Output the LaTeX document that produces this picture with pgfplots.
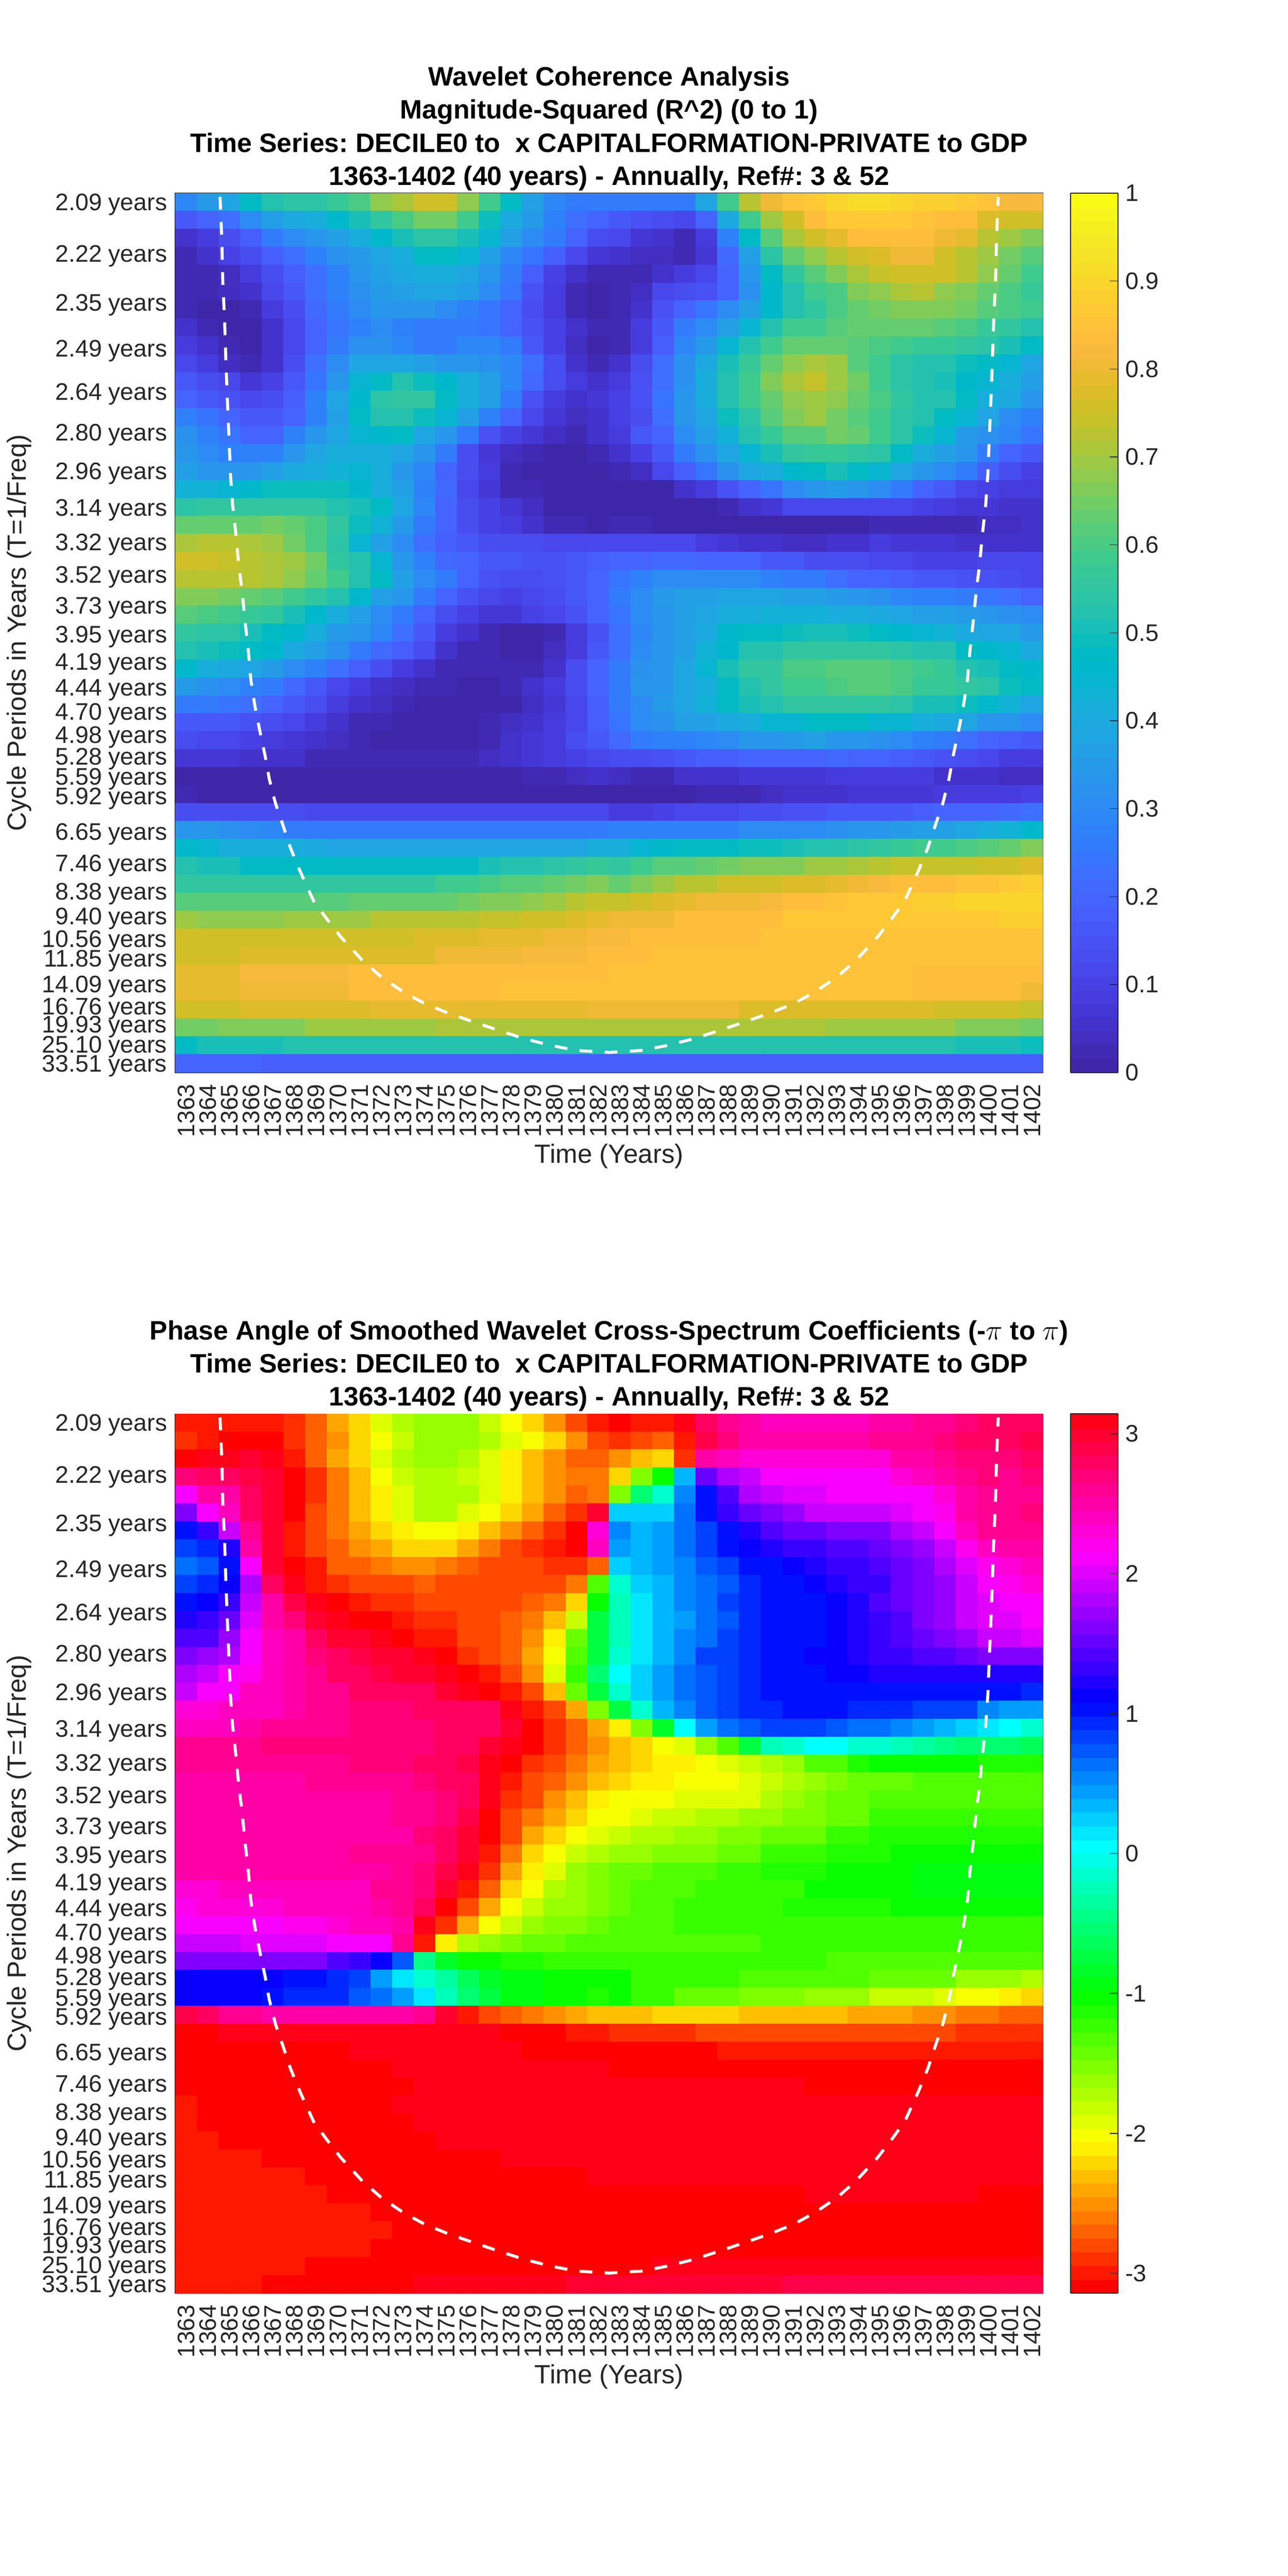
\documentclass[border=0pt]{standalone}
\usepackage{fontspec}
\setmainfont{Liberation Sans}
\usepackage{pgfplots}
\usepackage{pgfplotstable}
\pgfplotsset{compat=1.18}
\definecolor{axc}{rgb}{0.15,0.15,0.15}
\pgfplotsset{
colormap={parula}{rgb=(.2422,.1504,.6603) rgb=(.2504,.1650,.7076) rgb=(.2578,.1818,.7511) rgb=(.2647,.1978,.7952) rgb=(.2706,.2147,.8364) rgb=(.2751,.2342,.8710) rgb=(.2783,.2559,.8991) rgb=(.2803,.2782,.9221) rgb=(.2813,.3006,.9414) rgb=(.2810,.3228,.9579) rgb=(.2795,.3447,.9717) rgb=(.2760,.3667,.9829) rgb=(.2699,.3892,.9906) rgb=(.2602,.4123,.9952) rgb=(.2440,.4358,.9988) rgb=(.2206,.4603,.9973) rgb=(.1963,.4847,.9892) rgb=(.1834,.5074,.9798) rgb=(.1786,.5289,.9682) rgb=(.1764,.5499,.9520) rgb=(.1687,.5703,.9359) rgb=(.1540,.5902,.9218) rgb=(.1460,.6091,.9079) rgb=(.1380,.6276,.8973) rgb=(.1248,.6459,.8883) rgb=(.1113,.6635,.8763) rgb=(.0952,.6798,.8598) rgb=(.0689,.6948,.8394) rgb=(.0297,.7082,.8163) rgb=(.0036,.7203,.7917) rgb=(.0067,.7312,.7660) rgb=(.0433,.7411,.7394) rgb=(.0964,.7500,.7120) rgb=(.1408,.7584,.6842) rgb=(.1717,.7670,.6554) rgb=(.1938,.7758,.6251) rgb=(.2161,.7843,.5923) rgb=(.2470,.7918,.5567) rgb=(.2906,.7973,.5188) rgb=(.3406,.8008,.4789) rgb=(.3909,.8029,.4354) rgb=(.4456,.8024,.3909) rgb=(.5044,.7993,.3480) rgb=(.5616,.7942,.3045) rgb=(.6174,.7876,.2612) rgb=(.6720,.7793,.2227) rgb=(.7242,.7698,.1910) rgb=(.7738,.7598,.1646) rgb=(.8203,.7498,.1535) rgb=(.8634,.7406,.1596) rgb=(.9035,.7330,.1774) rgb=(.9393,.7288,.2100) rgb=(.9728,.7298,.2394) rgb=(.9956,.7434,.2371) rgb=(.9970,.7659,.2199) rgb=(.9952,.7893,.2028) rgb=(.9892,.8136,.1885) rgb=(.9786,.8386,.1766) rgb=(.9676,.8639,.1643) rgb=(.9610,.8890,.1537) rgb=(.9597,.9135,.1423) rgb=(.9628,.9373,.1265) rgb=(.9691,.9606,.1064) rgb=(.9769,.9839,.0805)},
colormap={hsvm}{rgb=(1,0,0) rgb=(1,.094,0) rgb=(1,.188,0) rgb=(1,.281,0) rgb=(1,.375,0) rgb=(1,.469,0) rgb=(1,.563,0) rgb=(1,.656,0) rgb=(1,.75,0) rgb=(1,.844,0) rgb=(1,.938,0) rgb=(.969,1,0) rgb=(.875,1,0) rgb=(.781,1,0) rgb=(.688,1,0) rgb=(.594,1,0) rgb=(.5,1,0) rgb=(.406,1,0) rgb=(.313,1,0) rgb=(.219,1,0) rgb=(.125,1,0) rgb=(.031,1,0) rgb=(0,1,.063) rgb=(0,1,.156) rgb=(0,1,.25) rgb=(0,1,.344) rgb=(0,1,.438) rgb=(0,1,.531) rgb=(0,1,.625) rgb=(0,1,.719) rgb=(0,1,.813) rgb=(0,1,.906) rgb=(0,1,1) rgb=(0,.906,1) rgb=(0,.813,1) rgb=(0,.719,1) rgb=(0,.625,1) rgb=(0,.531,1) rgb=(0,.438,1) rgb=(0,.344,1) rgb=(0,.25,1) rgb=(0,.156,1) rgb=(0,.063,1) rgb=(.031,0,1) rgb=(.125,0,1) rgb=(.219,0,1) rgb=(.313,0,1) rgb=(.406,0,1) rgb=(.5,0,1) rgb=(.594,0,1) rgb=(.688,0,1) rgb=(.781,0,1) rgb=(.875,0,1) rgb=(.969,0,1) rgb=(1,0,.938) rgb=(1,0,.844) rgb=(1,0,.75) rgb=(1,0,.656) rgb=(1,0,.563) rgb=(1,0,.469) rgb=(1,0,.375) rgb=(1,0,.281) rgb=(1,0,.188) rgb=(1,0,.094)},
hmap/.style={
  scale only axis, width=526.4pt, height=533.5pt, anchor=south west,
  xmin=1362.5, xmax=1402.5, ymin=0, ymax=49, y dir=reverse,
  axis line style={draw=axc, line width=0.55pt},
  tick style={draw=axc, line width=0.5pt},
  tick align=inside, major tick length=5pt,
  /pgf/number format/assume math mode=true,
  /pgf/number format/1000 sep={},
  tick label style={font=\fontsize{14.5}{16}\selectfont, text=axc},
  xtick={1363,1364,...,1402},
  x tick label style={yshift=-3.5pt, rotate=90, anchor=east},
  ytick={0.5,3.374,6.086,8.646,11.063,13.343,15.496,17.528,19.446,21.256,22.965,24.578,26.1,27.537,28.893,30.173,31.381,32.522,33.598,34.614,35.573,36.479,37.332,38.139,38.9,39.619,40.296,40.936,41.541,42.111,42.649,43.157,43.636,44.089,44.516,44.919,45.3,45.659,45.998,46.318,46.62,46.905,47.174,47.429,47.668,47.895,48.108,48.31,48.5},
  yticklabels={2.09 years,2.22 years,2.35 years,2.49 years,2.64 years,2.80 years,2.96 years,3.14 years,3.32 years,3.52 years,3.73 years,3.95 years,4.19 years,4.44 years,4.70 years,4.98 years,5.28 years,5.59 years,5.92 years,{},6.65 years,{},7.46 years,{},8.38 years,{},9.40 years,{},10.56 years,{},11.85 years,{},{},14.09 years,{},{},16.76 years,{},{},19.93 years,{},{},{},25.10 years,{},{},{},{},33.51 years},
  y tick label style={xshift=-1.5pt, yshift=-1.5pt},
  every axis x label/.style={at={(axis description cs:0.5,-0.0951)},anchor=center,font=\fontsize{16}{18}\selectfont,text=axc},
  every axis y label/.style={at={(axis description cs:-0.1802,0.5)},rotate=90,anchor=center,font=\fontsize{16}{18}\selectfont,text=axc},
  xlabel={Time (Years)}, ylabel={Cycle Periods in Years (T=1/Freq)},
  title style={align=center, font=\frenchspacing\bfseries\fontsize{16.15}{20.1}\selectfont, text=black, anchor=south, at={(0.5,1)}, yshift=-8pt},
  colormap access=piecewise constant,
  colorbar sampled,
  colorbar style={scale only axis, width=28.75pt, samples=65,
    at={(parent axis.north east)}, anchor=north west, xshift=8.25pt,
    axis line style={draw=axc, line width=0.55pt},
    tick style={draw=axc, line width=0.5pt},
    tick align=inside, ytick pos=right, major tick length=5pt,
    /pgf/number format/assume math mode=true,
    yticklabel pos=right,
    y tick label style={font=\fontsize{14.5}{16}\selectfont, text=axc, xshift=1pt},
  },
},
hcell/.style={matrix plot*, mesh/cols=40, point meta=explicit, forget plot},
coi/.style={white, line width=1.8pt, dash pattern=on 7.75pt off 7.5pt, no marks, forget plot},
}
\pgfplotstableread[header=false]{
1364.56 0.2
1364.64 2.5
1364.69 5
1364.77 7.08
1364.83 9.37
1364.89 11.28
1364.97 13.57
1365.04 15.67
1365.14 17.38
1365.28 18.9
1365.43 20.8
1365.57 22.1
1365.70 23.72
1365.86 25.42
1365.98 27.12
1366.17 28.6
1366.38 29.88
1366.64 31.36
1366.83 32.64
1367.12 34.02
1367.45 35.18
1367.8 36.46
1368.23 37.73
1368.87 39.43
1369.45 40.39
1370.13 41.45
1371.1 42.72
1372 43.68
1373.04 44.53
1374.0 45.16
1375.08 45.69
1376.25 46.18
1377.4 46.65
1378.6 47.12
1379.85 47.5
1381.0 47.77
1382.5 47.88
1384 47.77
1385.15 47.5
1386.4 47.12
1387.6 46.65
1388.75 46.18
1389.92 45.69
1391 45.16
1391.96 44.53
1393 43.68
1393.9 42.72
1394.87 41.45
1395.55 40.39
1396.13 39.43
1396.77 37.73
1397.2 36.46
1397.55 35.18
1397.88 34.02
1398.17 32.64
1398.36 31.36
1398.62 29.88
1398.83 28.6
1399.02 27.12
1399.14 25.42
1399.3 23.72
1399.43 22.1
1399.57 20.8
1399.72 18.9
1399.86 17.38
1399.96 15.67
1400.03 13.57
1400.11 11.28
1400.17 9.37
1400.23 7.08
1400.31 5
1400.36 2.5
1400.44 0.2
}\coitab
% Coherence in hundredths, 49 rows by 40 years
\pgfplotstableread[header=false]{
29 35 38 47 53 54 54 57 60 68 71 75 75 68 59 47 37 29 26 25 25 25 25 25 38 58 72 80 85 87 90 92 92 90 89 88 87 85 82 82
17 20 22 30 37 40 42 46 51 55 60 65 65 58 49 40 35 27 22 19 17 15 13 12 20 40 58 70 76 83 86 86 86 86 85 83 83 77 76 75
5 8 13 18 25 30 34 36 42 46 50 54 54 50 44 36 30 25 19 14 11 7 5 3 9 28 47 61 71 75 79 83 84 84 84 80 79 73 70 67
3 5 10 14 18 23 28 32 35 38 42 47 47 45 36 29 24 18 11 7 5 4 4 3 7 21 36 54 63 68 72 75 78 81 81 76 73 70 65 61
3 3 4 8 13 18 22 27 33 37 40 42 42 39 33 25 18 10 5 2 2 3 5 8 11 20 33 47 56 61 66 71 74 76 76 76 72 68 64 59
3 3 4 6 11 16 22 27 32 35 37 38 38 36 31 24 15 8 3 1 2 4 11 13 15 20 32 46 53 58 60 66 68 71 72 68 67 63 60 57
3 1 1 2 9 14 21 26 31 33 34 34 31 27 24 19 14 8 3 1 2 6 15 20 24 31 37 46 53 55 60 63 65 66 67 67 65 62 60 58
5 2 1 1 6 12 19 24 28 30 28 25 25 25 24 20 15 10 5 2 3 8 16 26 31 36 45 52 58 59 61 63 63 63 63 62 60 57 56 53
9 5 3 1 5 11 20 26 32 32 29 25 26 29 29 26 16 10 4 1 3 9 18 29 35 44 53 58 64 64 64 62 60 58 57 57 56 54 50 47
11 9 4 2 5 13 22 30 38 38 39 37 34 34 32 29 23 13 5 2 5 13 22 32 40 50 57 63 68 71 69 62 58 54 52 52 49 47 45 39
17 13 11 7 10 17 24 34 44 47 53 49 46 42 36 29 21 14 9 6 8 15 22 32 42 53 58 66 71 74 70 65 58 54 52 50 46 44 41 36
20 17 15 12 13 18 27 38 46 54 55 55 47 41 36 26 15 9 6 7 10 15 24 34 42 53 58 64 68 70 68 63 60 56 52 52 47 42 40 34
28 24 20 17 16 19 27 36 47 53 53 49 44 36 28 19 11 7 4 6 10 14 23 34 39 49 54 61 66 69 65 62 58 54 52 47 45 38 31 28
32 27 24 20 20 28 33 38 44 46 47 39 34 26 15 10 7 4 2 5 8 16 20 31 37 43 52 57 61 62 65 64 59 54 49 45 35 32 29 24
33 30 28 27 28 34 38 41 42 42 38 33 26 14 7 4 2 1 1 3 6 10 16 26 32 38 45 51 56 57 57 55 54 48 41 36 33 26 19 17
36 33 33 34 37 40 42 43 45 42 33 29 20 13 8 3 1 0 0 1 2 4 12 18 24 32 38 41 46 47 50 47 44 39 34 31 25 18 13 10
43 43 44 46 49 49 49 49 46 41 37 28 21 11 7 3 2 1 1 1 1 0 1 5 9 15 19 24 30 33 35 33 30 25 19 16 11 10 9 8
54 55 56 56 55 55 55 52 50 47 38 29 20 14 10 7 4 1 0 0 0 0 0 1 1 2 5 7 11 12 12 12 11 11 10 9 7 7 6 5
63 63 64 64 65 63 60 55 49 43 35 26 19 13 10 8 5 3 2 1 3 3 1 0 0 0 0 0 0 0 0 1 2 2 2 3 3 4 4 5
71 72 72 71 69 65 60 54 44 37 30 23 18 16 14 14 13 12 12 12 12 12 12 11 8 7 6 5 4 4 5 5 8 7 7 7 6 6 6 6
76 76 74 73 71 69 65 56 52 45 33 27 21 19 17 16 15 15 17 18 19 20 21 21 20 19 19 17 16 14 14 13 12 11 10 10 10 11 11 11
72 73 73 72 71 68 64 58 53 47 37 30 25 19 15 13 14 15 17 20 24 28 30 30 31 31 30 28 26 26 23 20 19 18 17 17 15 15 13 11
67 67 65 63 62 59 55 52 46 37 33 26 19 15 12 10 12 13 16 20 25 31 35 36 37 38 38 38 37 36 35 33 32 29 27 27 25 24 22 20
62 60 59 57 55 50 46 41 37 30 25 20 14 10 7 7 10 12 15 20 24 30 33 36 39 42 42 43 43 43 42 41 40 39 37 36 35 34 32 30
55 54 54 51 48 46 41 35 33 29 22 16 9 5 3 1 1 3 9 15 22 29 33 36 40 46 47 47 49 50 50 49 48 46 44 43 40 38 38 35
52 50 49 47 46 40 37 32 25 21 18 14 6 3 2 1 1 4 9 17 22 30 33 37 43 46 53 53 55 55 56 56 55 54 53 52 48 46 44 40
46 42 40 38 35 31 27 22 18 13 9 5 2 2 2 2 2 6 13 20 26 32 34 39 45 50 55 56 60 60 62 62 62 60 59 57 53 51 48 46
35 32 30 28 25 21 17 12 8 6 4 3 2 1 1 3 5 8 13 19 26 33 34 39 42 47 53 55 58 59 60 61 61 60 57 57 55 54 49 47
26 25 24 22 19 16 13 9 6 4 3 1 1 1 1 1 4 7 12 18 26 31 35 39 43 47 50 52 56 56 56 56 55 54 51 50 49 46 43 38
17 16 16 15 14 11 9 5 3 2 0 0 0 0 2 4 5 8 12 18 24 30 32 36 37 40 42 44 45 47 48 47 45 44 42 40 38 34 33 30
13 12 11 10 9 7 5 4 2 1 0 0 0 1 3 5 7 9 13 17 21 26 27 27 29 31 33 34 35 36 34 33 32 30 27 25 22 20 18 17
7 7 7 6 6 5 3 2 2 2 2 2 2 3 4 5 7 8 10 12 13 14 15 16 18 18 19 19 20 20 21 20 20 18 17 15 13 11 9 8
1 1 1 1 1 1 1 1 1 0 0 0 0 0 0 1 2 3 4 5 4 2 3 5 5 5 7 7 7 7 8 8 8 8 8 5 5 5 4 4
2 0 0 0 0 0 0 0 0 0 0 0 0 0 0 0 0 0 0 0 0 0 1 1 2 2 3 4 5 5 5 7 7 7 7 8 8 8 9 10
14 14 14 14 14 14 12 12 12 12 12 12 12 12 11 11 11 11 11 11 9 9 10 11 12 12 13 13 15 15 16 16 17 17 18 19 20 20 21 23
34 33 32 30 29 26 26 26 26 26 26 26 26 26 26 26 26 26 26 26 27 28 28 28 28 28 30 30 30 30 32 33 34 35 36 37 39 41 43 46
46 44 41 41 41 41 40 39 39 39 39 39 39 39 39 39 39 39 39 41 41 45 46 47 47 48 49 49 51 52 53 54 55 57 59 59 60 62 64 66
53 50 50 47 47 47 47 47 47 47 47 47 47 48 50 52 53 54 55 57 56 59 61 62 63 65 66 66 67 69 70 71 73 74 74 74 74 76 76 78
56 55 55 55 55 55 55 55 55 55 56 56 58 59 60 62 62 64 65 67 64 66 69 72 73 75 76 76 78 78 79 80 82 83 84 84 85 85 86 88
61 61 61 61 61 61 61 61 63 63 63 63 64 65 66 67 68 70 72 74 74 76 78 79 80 81 81 82 83 84 85 86 87 87 88 88 90 90 90 90
69 68 68 68 68 69 69 69 69 72 72 72 72 73 74 74 75 76 77 79 80 81 81 83 83 83 84 84 86 86 86 87 87 87 87 87 87 87 89 89
75 75 75 75 75 75 75 75 76 76 76 77 77 77 79 79 79 80 81 82 82 83 83 84 84 84 84 85 85 85 85 85 85 85 85 85 85 85 85 85
76 76 76 78 78 78 78 78 78 78 78 78 81 81 81 81 82 82 82 83 83 83 85 85 85 85 85 85 85 85 85 85 85 85 85 85 85 85 85 85
79 79 79 82 82 82 82 82 83 83 83 83 83 83 84 84 84 84 84 84 85 85 85 85 85 85 85 85 85 85 85 85 85 85 84 84 84 84 84 84
79 79 79 81 81 81 81 81 83 83 83 83 83 83 83 85 85 85 85 85 85 85 85 85 85 85 85 85 85 85 85 85 85 85 83 83 83 83 83 81
75 75 75 78 78 78 78 78 78 79 79 79 79 79 79 79 79 79 79 81 81 81 81 81 81 81 78 78 78 78 78 78 78 78 78 76 76 76 76 74
65 65 67 67 67 67 69 69 69 69 69 69 71 71 71 71 71 71 71 71 71 71 71 71 71 71 71 71 71 71 69 69 69 69 69 69 67 67 67 65
48 50 50 50 50 53 53 53 53 53 53 53 53 53 53 53 53 53 53 53 53 53 53 53 53 53 53 53 53 52 52 52 52 52 52 52 50 50 50 49
19 19 19 19 18 18 18 18 18 18 18 18 18 18 18 18 18 18 18 18 18 18 18 18 18 18 18 18 18 18 18 18 18 18 18 18 18 18 18 18
}\cohtab
% Phase in tenths of a radian, 49 rows by 40 years
\pgfplotstableread[header=false]{
-30 -30 -30 -30 -30 -29 -27 -24 -22 -19 -17 -16 -16 -16 -18 -20 -22 -25 -28 -30 -31 -30 -30 31 28 26 25 24 24 24 24 24 25 25 26 26 27 28 28 28
-29 -30 -31 -31 -31 -29 -27 -25 -22 -20 -18 -16 -16 -16 -17 -19 -20 -22 -25 -28 -29 -28 -27 -30 29 27 25 25 25 25 25 25 26 26 26 27 28 28 28 29
-31 31 31 30 31 -30 -27 -24 -22 -19 -17 -16 -16 -17 -19 -21 -23 -25 -27 -27 -25 -23 -22 -29 25 24 23 23 23 23 23 23 23 25 25 26 27 27 27 28
27 28 28 29 30 -31 -29 -26 -23 -20 -18 -17 -17 -18 -19 -21 -23 -25 -26 -26 -22 -15 -10 3 15 18 19 21 21 21 21 21 21 23 24 25 26 27 26 27
21 25 25 28 30 -31 -29 -26 -23 -21 -19 -17 -17 -17 -19 -21 -23 -25 -27 -26 -15 -5 -1 5 10 14 18 19 20 20 21 21 21 21 21 23 25 26 26 26
16 21 24 28 30 -31 -28 -26 -23 -21 -19 -17 -17 -19 -20 -22 -24 -27 -29 30 2 2 2 6 10 13 15 16 17 19 19 19 19 20 21 22 25 26 26 27
10 13 19 26 30 -30 -28 -26 -24 -22 -21 -20 -20 -21 -23 -25 -27 -29 -31 23 5 3 4 6 8 10 12 14 15 15 16 16 16 18 19 21 24 26 26 26
8 9 12 25 30 -30 -28 -27 -25 -24 -22 -22 -22 -24 -26 -28 -29 -30 -31 24 4 3 4 6 8 10 11 12 13 13 14 14 15 16 17 19 22 24 25 25
6 7 10 21 30 -31 -30 -27 -27 -26 -25 -25 -26 -27 -28 -28 -28 -29 -29 -27 2 3 4 5 7 8 10 10 11 12 13 13 14 15 16 18 20 22 23 24
8 9 11 18 28 31 -30 -29 -28 -28 -28 -27 -28 -28 -28 -28 -28 -28 -26 -13 -1 2 3 5 6 7 9 10 10 11 12 13 13 15 16 17 19 21 22 23
10 11 13 19 25 29 31 -31 -30 -29 -29 -28 -28 -28 -28 -28 -27 -26 -22 -10 -2 1 3 5 6 8 9 10 10 10 11 12 14 15 16 17 19 20 21 21
12 13 15 20 25 27 30 31 -31 -31 -30 -29 -29 -28 -28 -27 -26 -23 -18 -7 -2 1 3 4 6 7 9 10 10 10 11 12 13 14 16 17 19 20 20 21
14 14 17 21 24 25 28 30 30 31 -31 -30 -30 -28 -28 -27 -25 -21 -14 -7 -2 1 3 5 6 8 9 10 10 10 11 12 13 14 15 16 17 19 19 20
16 17 18 21 24 25 27 28 29 30 30 31 -31 -29 -28 -27 -24 -20 -13 -7 -1 1 3 5 8 8 9 10 10 11 11 12 13 13 14 14 15 16 16 16
18 19 21 22 24 25 26 28 28 29 30 30 31 -31 -30 -28 -25 -19 -12 -5 0 2 4 6 7 8 9 10 10 10 11 11 12 12 12 12 12 12 12 12
19 21 21 24 24 25 26 26 28 28 28 28 30 31 -31 -30 -28 -23 -14 -7 -1 2 4 6 7 8 9 10 10 10 10 10 10 10 10 10 10 10 10 9
23 23 24 24 24 25 26 26 27 27 27 28 28 28 28 31 -30 -28 -24 -15 -7 -1 3 5 7 8 9 9 10 10 10 9 9 9 8 8 8 5 4 4
24 24 24 25 26 26 26 26 27 27 27 27 28 28 28 30 -31 -29 -27 -24 -21 -15 -8 0 4 6 7 8 8 8 7 6 6 5 4 3 2 1 0 -1
26 26 26 26 27 27 27 27 27 27 27 27 28 28 30 31 -31 -29 -27 -25 -23 -22 -20 -19 -16 -13 -7 -2 -1 0 0 -1 -1 -2 -3 -4 -5 -5 -5 -6
26 26 26 26 26 26 26 26 27 27 27 28 28 29 31 -31 -29 -28 -26 -24 -23 -22 -21 -21 -20 -19 -18 -17 -16 -13 -13 -11 -10 -10 -10 -10 -10 -11 -11 -11
25 25 25 25 25 25 26 26 26 26 26 27 28 28 31 -30 -28 -27 -25 -23 -22 -21 -21 -20 -20 -20 -19 -18 -17 -16 -15 -14 -14 -14 -13 -13 -13 -13 -13 -13
25 25 25 25 25 25 25 25 25 25 26 26 27 28 31 -29 -28 -25 -23 -21 -20 -20 -20 -19 -19 -19 -19 -17 -16 -15 -14 -14 -13 -13 -13 -13 -13 -13 -13 -13
25 25 25 25 25 25 25 25 25 25 26 26 27 29 -31 -28 -26 -24 -22 -20 -20 -19 -18 -18 -17 -17 -16 -16 -15 -15 -14 -14 -12 -12 -12 -12 -12 -12 -12 -12
25 25 25 25 25 25 25 25 25 25 25 27 28 30 -31 -28 -24 -22 -20 -19 -18 -17 -17 -16 -16 -15 -15 -14 -14 -14 -12 -12 -11 -11 -11 -11 -11 -11 -11 -11
25 25 25 25 25 25 25 25 26 26 26 26 28 30 -30 -26 -22 -20 -18 -17 -16 -16 -15 -15 -15 -14 -14 -12 -12 -12 -11 -11 -11 -10 -10 -10 -10 -10 -10 -10
25 25 25 25 25 25 25 25 25 25 26 27 29 31 -29 -24 -21 -19 -16 -15 -14 -14 -13 -13 -13 -12 -12 -11 -11 -11 -10 -10 -10 -10 -9 -9 -9 -9 -9 -9
23 23 24 24 24 24 24 24 24 26 26 27 30 -30 -27 -22 -20 -17 -16 -15 -14 -13 -13 -13 -12 -12 -12 -12 -12 -10 -10 -10 -10 -10 -9 -9 -9 -9 -9 -9
22 23 23 23 23 24 24 24 24 25 26 28 -31 -28 -24 -20 -18 -16 -16 -15 -14 -13 -13 -12 -12 -12 -12 -12 -11 -11 -11 -11 -11 -10 -10 -10 -10 -10 -10 -10
21 21 21 21 21 22 22 23 24 24 25 31 -29 -24 -20 -18 -16 -15 -15 -14 -13 -13 -13 -12 -12 -12 -12 -12 -12 -12 -12 -12 -12 -12 -12 -12 -12 -12 -12 -12
19 19 19 20 20 20 20 21 21 21 26 -30 -21 -17 -16 -15 -14 -14 -13 -13 -13 -13 -13 -13 -13 -13 -13 -12 -12 -12 -12 -12 -12 -12 -12 -12 -12 -12 -12 -12
16 16 16 16 16 16 16 14 13 11 7 -4 -8 -10 -10 -11 -11 -12 -12 -12 -12 -12 -12 -12 -12 -12 -12 -12 -12 -12 -13 -13 -13 -13 -13 -13 -13 -13 -13 -13
11 11 11 11 11 10 10 9 8 4 1 -1 -3 -6 -8 -9 -9 -10 -10 -10 -10 -12 -12 -12 -12 -12 -13 -13 -13 -13 -13 -13 -14 -14 -14 -14 -16 -16 -16 -17
11 11 11 11 10 9 9 9 7 6 4 1 -2 -5 -7 -9 -9 -10 -10 -11 -10 -12 -12 -14 -14 -14 -15 -15 -15 -16 -16 -16 -18 -18 -18 -19 -20 -20 -21 -22
29 28 26 26 25 25 25 25 25 25 25 26 30 -30 -28 -27 -26 -25 -24 -23 -23 -23 -22 -22 -22 -22 -23 -23 -23 -23 -23 -24 -24 -24 -25 -25 -26 -26 -27 -27
-31 -31 31 31 31 31 31 31 31 31 31 31 31 31 31 -31 -31 -31 -30 -30 -29 -29 -29 -29 -28 -28 -28 -28 -28 -28 -28 -28 -28 -28 -28 -28 -29 -29 -29 -29
-31 -31 -31 -31 -31 -31 -31 -31 31 31 31 31 31 31 31 31 -31 -31 -31 -31 -31 -31 -31 -31 -31 -30 -30 -30 -30 -30 -30 -30 -30 -30 -30 -30 -30 -30 -30 -30
-31 -31 -31 -31 -31 -31 -31 -31 -31 -31 31 31 31 31 31 31 31 31 31 31 -31 -31 -31 -31 -31 -31 -31 -31 -31 -31 -31 -31 -31 -31 -31 -31 -31 -31 -31 -31
-31 -31 -31 -31 -31 -31 -31 -31 -31 -31 -31 31 31 31 31 31 31 31 31 31 31 31 31 31 31 31 31 31 31 -31 -31 -31 -31 -31 -31 -31 -31 -31 -31 -31
-30 -31 -31 -31 -31 -31 -31 -31 -31 -31 31 31 31 31 31 31 31 31 31 31 31 31 31 31 31 31 31 31 31 31 31 31 31 31 31 31 31 31 31 31
-30 -31 -31 -31 -31 -31 -31 -31 -31 -31 -31 31 31 31 31 31 31 31 31 31 31 31 31 31 31 31 31 31 31 31 31 31 31 31 31 31 31 31 31 31
-30 -30 -31 -31 -31 -31 -31 -31 -31 -31 -31 -31 31 31 31 31 31 31 31 31 31 31 31 31 31 31 31 31 31 31 31 31 31 31 31 31 31 31 31 31
-30 -30 -30 -30 -31 -31 -31 -31 -31 -31 -31 -31 -31 -31 -31 31 31 31 31 31 31 31 31 31 31 31 31 31 31 31 31 31 31 31 31 31 31 31 31 31
-30 -30 -30 -30 -30 -30 -31 -31 -31 -31 -31 -31 -31 -31 -31 -31 -31 -31 -31 31 31 31 31 31 31 31 31 31 31 31 31 31 31 31 31 31 31 31 31 31
-30 -30 -30 -30 -30 -30 -30 -31 -31 -31 -31 -31 -31 -31 -31 -31 -31 -31 -31 -31 -31 -31 -31 -31 -31 -31 -31 -31 -31 31 31 31 31 31 31 31 31 -31 -31 -31
-30 -30 -30 -30 -30 -30 -30 -30 -30 -31 -31 -31 -31 -31 -31 -31 -31 -31 -31 -31 -31 -31 -31 -31 -31 -31 -31 -31 -31 -31 -31 -31 -31 -31 -31 -31 -31 -31 -31 -31
-30 -30 -30 -30 -30 -30 -30 -30 -30 -30 -31 -31 -31 -31 -31 -31 -31 -31 -31 -31 -31 -31 -31 -31 -31 -31 -31 -31 -31 -31 -31 -31 -31 -31 -31 -31 -31 -31 -31 -31
-30 -30 -30 -30 -30 -30 -30 -30 -30 -31 -31 -31 -31 -31 -31 -31 -31 -31 -31 -31 -31 -31 -31 -31 -31 -31 -31 -31 -31 -31 -31 -31 -31 -31 -31 -31 -31 -31 -31 -31
-30 -30 -30 -30 -30 -30 -31 -31 -31 -31 -31 -31 -31 -31 -31 -31 -31 -31 -31 -31 -31 -31 31 31 31 31 31 31 31 31 31 31 31 31 31 31 31 31 31 31
-30 -30 -30 -30 -31 -31 -31 -31 -31 -31 -31 31 31 31 31 31 31 31 30 30 30 30 30 30 30 30 30 30 29 29 29 29 29 29 29 29 29 29 29 29
}\phatab
\newcommand\buildcoords[3]{%
  \def\acc{}%
  \pgfplotsforeachungrouped \rr in {0,...,48}{%
    \pgfplotsforeachungrouped \cc in {0,...,39}{%
      \pgfplotstablegetelem{\rr}{[index]\cc}\of#1%
      \pgfmathparse{\pgfplotsretval/#2}\let\vv\pgfmathresult
      \edef\acc{\acc (\the\numexpr1363+\cc\relax,\rr.5) [\vv]}%
    }%
  }%
  \let#3\acc
}
\buildcoords\cohtab{100}\cohcoords
\buildcoords\phatab{10}\phacoords
\def\doCell{\addplot[hcell] coordinates}
\begin{document}
\begin{tikzpicture}[x=1pt,y=1pt]
\path[use as bounding box] (0,0) rectangle (781.25,1563);
\begin{axis}[hmap, at={(106.4pt,912.25pt)},
  colormap name=parula, point meta min=0, point meta max=1,
  colorbar style={ytick={0,0.1,0.2,0.3,0.4,0.5,0.6,0.7,0.8,0.9,1}},
  title={Wavelet Coherence Analysis\\Magnitude-Squared (R\textasciicircum 2) (0 to 1)\\Time Series: DECILE0 to\ \ x CAPITALFORMATION-PRIVATE to GDP\\1363-1402 (40 years) - Annually, Ref\#: 3 \& 52}]
\expandafter\doCell\expandafter{\cohcoords};
\addplot[coi] table[x index=0,y index=1]{\coitab};
\end{axis}
\begin{axis}[hmap, at={(106.4pt,171.6pt)},
  colormap name=hsvm, point meta min=-3.14159, point meta max=3.14159,
  colorbar style={ytick={-3,-2,-1,0,1,2,3}},
  title={Phase Angle of Smoothed Wavelet Cross-Spectrum Coefficients (-$\pi$ to $\pi$)\\Time Series: DECILE0 to\ \ x CAPITALFORMATION-PRIVATE to GDP\\1363-1402 (40 years) - Annually, Ref\#: 3 \& 52}]
\expandafter\doCell\expandafter{\phacoords};
\addplot[coi] table[x index=0,y index=1]{\coitab};
\end{axis}
\end{tikzpicture}
\end{document}
